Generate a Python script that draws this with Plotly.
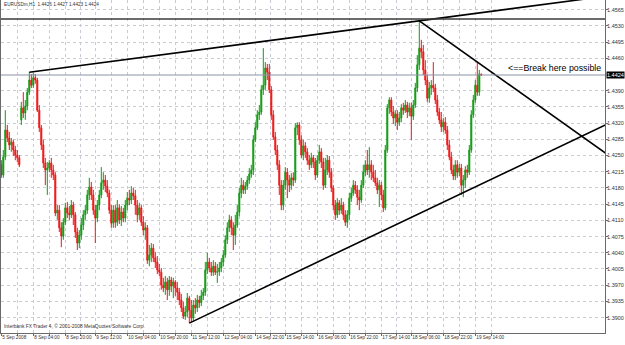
import plotly.graph_objects as go

# ---------------- data (EURUSDm H1) ----------------
bar_index = list(range(241))

opens = [
    1.4230,1.4208,1.4247,1.4305,1.4288,1.4273,1.4279,1.4262,1.4251,1.4245,
    1.4327,1.4353,1.4342,1.4357,1.4387,1.4413,1.4402,1.4418,1.4413,1.4348,
    1.4310,1.4273,1.4234,1.4219,1.4223,1.4234,1.4219,1.4208,1.4126,1.4132,
    1.4094,1.4076,1.4106,1.4137,1.4126,1.4122,1.4143,1.4122,1.4085,1.4061,
    1.4078,1.4100,1.4122,1.4132,1.4165,1.4182,1.4165,1.4132,1.4115,1.4143,
    1.4165,1.4191,1.4197,1.4184,1.4169,1.4132,1.4104,1.4132,1.4106,1.4137,
    1.4111,1.4128,1.4115,1.4143,1.4158,1.4154,1.4169,1.4163,1.4143,1.4122,
    1.4137,1.4106,1.4089,1.4094,1.4024,1.4035,1.4050,1.4029,1.4020,1.4003,
    1.3998,1.3970,1.3964,1.3977,1.3960,1.3981,1.3968,1.3977,1.3964,1.3955,
    1.3938,1.3921,1.3903,1.3912,1.3942,1.3916,1.3899,1.3927,1.3921,1.3938,
    1.3932,1.3947,1.3955,1.4003,1.4020,1.4007,1.3998,1.4011,1.3998,1.3999,
    1.4007,1.4020,1.4035,1.4068,1.4094,1.4111,1.4094,1.4078,1.4100,1.4128,
    1.4169,1.4186,1.4176,1.4184,1.4197,1.4210,1.4219,1.4284,1.4310,1.4338,
    1.4344,1.4392,1.4402,1.4439,1.4430,1.4392,1.4338,1.4290,1.4262,1.4230,
    1.4186,1.4143,1.4186,1.4214,1.4197,1.4186,1.4202,1.4197,1.4310,1.4316,
    1.4284,1.4251,1.4271,1.4258,1.4240,1.4230,1.4245,1.4236,1.4208,1.4240,
    1.4258,1.4236,1.4186,1.4219,1.4240,1.4214,1.4180,1.4143,1.4122,1.4148,
    1.4132,1.4143,1.4122,1.4106,1.4122,1.4158,1.4169,1.4186,1.4176,1.4160,
    1.4154,1.4186,1.4214,1.4230,1.4219,1.4230,1.4214,1.4202,1.4191,1.4176,
    1.4186,1.4165,1.4137,1.4262,1.4353,1.4370,1.4344,1.4331,1.4340,1.4322,
    1.4331,1.4353,1.4348,1.4359,1.4344,1.4353,1.4335,1.4359,1.4396,1.4446,
    1.4482,1.4474,1.4435,1.4413,1.4374,1.4396,1.4402,1.4396,1.4370,1.4344,
    1.4327,1.4312,1.4322,1.4305,1.4273,1.4247,1.4219,1.4206,1.4230,1.4214,
    1.4223,1.4186,1.4197,1.4219,1.4214,1.4262,1.4338,1.4370,1.4402,1.4387,
    1.4426,
]

highs = [
    1.4240,1.4262,1.4348,1.4316,1.4301,1.4288,1.4284,1.4271,1.4262,1.4251,
    1.4366,1.4387,1.4370,1.4396,1.4430,1.4426,1.4428,1.4426,1.4418,1.4359,
    1.4316,1.4284,1.4245,1.4236,1.4240,1.4245,1.4230,1.4214,1.4143,1.4143,
    1.4106,1.4115,1.4148,1.4150,1.4141,1.4154,1.4150,1.4128,1.4094,1.4089,
    1.4115,1.4132,1.4143,1.4176,1.4202,1.4193,1.4176,1.4143,1.4154,1.4176,
    1.4225,1.4214,1.4208,1.4197,1.4176,1.4143,1.4143,1.4143,1.4154,1.4145,
    1.4141,1.4137,1.4154,1.4171,1.4176,1.4184,1.4180,1.4176,1.4154,1.4148,
    1.4143,1.4119,1.4106,1.4100,1.4057,1.4061,1.4059,1.4042,1.4033,1.4016,
    1.4007,1.3986,1.3990,1.3986,1.3990,1.3988,1.3986,1.3981,1.3977,1.3964,
    1.3951,1.3934,1.3925,1.3953,1.3947,1.3938,1.3938,1.3942,1.3949,1.3947,
    1.3960,1.3964,1.4020,1.4040,1.4029,1.4020,1.4024,1.4020,1.4016,1.4020,
    1.4029,1.4046,1.4078,1.4106,1.4122,1.4119,1.4106,1.4122,1.4143,1.4180,
    1.4202,1.4197,1.4193,1.4206,1.4223,1.4230,1.4294,1.4322,1.4348,1.4359,
    1.4402,1.4482,1.4452,1.4448,1.4448,1.4400,1.4348,1.4301,1.4273,1.4240,
    1.4197,1.4197,1.4225,1.4223,1.4208,1.4212,1.4214,1.4320,1.4322,1.4322,
    1.4294,1.4284,1.4279,1.4266,1.4251,1.4256,1.4251,1.4245,1.4251,1.4273,
    1.4266,1.4245,1.4245,1.4251,1.4249,1.4223,1.4186,1.4154,1.4158,1.4154,
    1.4158,1.4150,1.4132,1.4132,1.4169,1.4180,1.4197,1.4195,1.4186,1.4176,
    1.4197,1.4230,1.4240,1.4262,1.4268,1.4240,1.4230,1.4219,1.4202,1.4197,
    1.4193,1.4176,1.4273,1.4361,1.4376,1.4376,1.4357,1.4348,1.4348,1.4344,
    1.4361,1.4364,1.4370,1.4366,1.4364,1.4364,1.4370,1.4407,1.4467,1.4541,
    1.4500,1.4489,1.4456,1.4424,1.4409,1.4413,1.4452,1.4405,1.4381,1.4353,
    1.4344,1.4331,1.4333,1.4314,1.4284,1.4258,1.4230,1.4240,1.4240,1.4232,
    1.4232,1.4208,1.4227,1.4230,1.4273,1.4348,1.4381,1.4413,1.4452,1.4435,
    1.4427,
]

lows = [
    1.4202,1.4202,1.4240,1.4279,1.4262,1.4258,1.4249,1.4240,1.4236,1.4225,
    1.4316,1.4331,1.4327,1.4348,1.4381,1.4396,1.4396,1.4405,1.4344,1.4301,
    1.4262,1.4223,1.4186,1.4165,1.4214,1.4202,1.4197,1.4119,1.4111,1.4085,
    1.4052,1.4068,1.4100,1.4115,1.4111,1.4115,1.4100,1.4072,1.4046,1.4050,
    1.4068,1.4089,1.4111,1.4124,1.4154,1.4154,1.4122,1.4061,1.4106,1.4132,
    1.4158,1.4176,1.4171,1.4160,1.4124,1.4094,1.4094,1.4094,1.4098,1.4102,
    1.4098,1.4106,1.4106,1.4132,1.4143,1.4145,1.4154,1.4122,1.4106,1.4111,
    1.4098,1.4078,1.4068,1.4016,1.4011,1.4020,1.4020,1.4007,1.3994,1.3990,
    1.3960,1.3955,1.3949,1.3938,1.3947,1.3955,1.3942,1.3947,1.3938,1.3927,
    1.3912,1.3897,1.3895,1.3901,1.3888,1.3890,1.3893,1.3908,1.3912,1.3921,
    1.3925,1.3938,1.3947,1.3994,1.3998,1.3990,1.3990,1.3992,1.3975,1.3990,
    1.3998,1.4011,1.4029,1.4059,1.4085,1.4078,1.4046,1.4057,1.4094,1.4119,
    1.4158,1.4167,1.4167,1.4176,1.4189,1.4202,1.4208,1.4279,1.4305,1.4327,
    1.4338,1.4381,1.4392,1.4413,1.4385,1.4327,1.4284,1.4251,1.4219,1.4165,
    1.4132,1.4132,1.4176,1.4158,1.4171,1.4176,1.4184,1.4191,1.4294,1.4273,
    1.4245,1.4240,1.4245,1.4230,1.4219,1.4223,1.4223,1.4197,1.4202,1.4232,
    1.4223,1.4176,1.4180,1.4208,1.4202,1.4171,1.4132,1.4111,1.4115,1.4122,
    1.4124,1.4111,1.4098,1.4094,1.4111,1.4150,1.4163,1.4167,1.4143,1.4132,
    1.4148,1.4180,1.4206,1.4208,1.4202,1.4197,1.4193,1.4184,1.4167,1.4139,
    1.4154,1.4128,1.4132,1.4256,1.4340,1.4335,1.4318,1.4314,1.4305,1.4314,
    1.4322,1.4338,1.4342,1.4331,1.4335,1.4284,1.4327,1.4353,1.4387,1.4435,
    1.4461,1.4424,1.4402,1.4366,1.4364,1.4381,1.4387,1.4361,1.4335,1.4318,
    1.4301,1.4301,1.4297,1.4262,1.4240,1.4210,1.4197,1.4197,1.4202,1.4206,
    1.4165,1.4160,1.4180,1.4202,1.4208,1.4256,1.4331,1.4364,1.4379,1.4379,
    1.4423,
]

closes = [
    1.4208,1.4247,1.4305,1.4288,1.4273,1.4279,1.4262,1.4251,1.4245,1.4230,
    1.4353,1.4342,1.4357,1.4387,1.4413,1.4402,1.4418,1.4413,1.4348,1.4310,
    1.4273,1.4234,1.4219,1.4223,1.4234,1.4219,1.4208,1.4126,1.4132,1.4094,
    1.4076,1.4106,1.4137,1.4126,1.4122,1.4143,1.4122,1.4085,1.4061,1.4078,
    1.4100,1.4122,1.4132,1.4165,1.4182,1.4165,1.4132,1.4115,1.4143,1.4165,
    1.4191,1.4197,1.4184,1.4169,1.4132,1.4104,1.4132,1.4106,1.4137,1.4111,
    1.4128,1.4115,1.4143,1.4158,1.4154,1.4169,1.4163,1.4143,1.4122,1.4137,
    1.4106,1.4089,1.4094,1.4024,1.4035,1.4050,1.4029,1.4020,1.4003,1.3998,
    1.3970,1.3964,1.3977,1.3960,1.3981,1.3968,1.3977,1.3964,1.3955,1.3938,
    1.3921,1.3903,1.3912,1.3942,1.3916,1.3899,1.3927,1.3921,1.3938,1.3932,
    1.3947,1.3955,1.4003,1.4020,1.4007,1.3998,1.4011,1.3998,1.3999,1.4007,
    1.4020,1.4035,1.4068,1.4094,1.4111,1.4094,1.4078,1.4100,1.4128,1.4169,
    1.4186,1.4176,1.4184,1.4197,1.4210,1.4219,1.4284,1.4310,1.4338,1.4344,
    1.4392,1.4402,1.4439,1.4430,1.4392,1.4338,1.4290,1.4262,1.4230,1.4186,
    1.4143,1.4186,1.4214,1.4197,1.4186,1.4202,1.4197,1.4310,1.4316,1.4284,
    1.4251,1.4271,1.4258,1.4240,1.4230,1.4245,1.4236,1.4208,1.4240,1.4258,
    1.4236,1.4186,1.4219,1.4240,1.4214,1.4180,1.4143,1.4122,1.4148,1.4132,
    1.4143,1.4122,1.4106,1.4122,1.4158,1.4169,1.4186,1.4176,1.4160,1.4154,
    1.4186,1.4214,1.4230,1.4219,1.4230,1.4214,1.4202,1.4191,1.4176,1.4186,
    1.4165,1.4137,1.4262,1.4353,1.4370,1.4344,1.4331,1.4340,1.4322,1.4331,
    1.4353,1.4348,1.4359,1.4344,1.4353,1.4335,1.4359,1.4396,1.4446,1.4482,
    1.4474,1.4435,1.4413,1.4374,1.4396,1.4402,1.4396,1.4370,1.4344,1.4327,
    1.4312,1.4322,1.4305,1.4273,1.4247,1.4219,1.4206,1.4230,1.4214,1.4223,
    1.4186,1.4197,1.4219,1.4214,1.4262,1.4338,1.4370,1.4402,1.4387,1.4426,
    1.4424,
]

x_label_bars = [0, 16, 32, 47, 63, 79, 95, 111, 127, 142, 158, 174, 190, 205, 221, 237]
x_labels = ["5 Sep 2008", "8 Sep 04:00", "8 Sep 20:00", "9 Sep 12:00", "10 Sep 04:00",
            "10 Sep 20:00", "11 Sep 12:00", "12 Sep 04:00", "14 Sep 22:00", "15 Sep 14:00",
            "16 Sep 06:00", "16 Sep 22:00", "17 Sep 14:00", "18 Sep 06:00", "18 Sep 22:00",
            "19 Sep 14:00"]

y_tick_prices = [1.4565, 1.4530, 1.4495, 1.4460, 1.4390, 1.4355, 1.4320, 1.4285, 1.4250,
                 1.4215, 1.4180, 1.4145, 1.4110, 1.4075, 1.4040, 1.4005, 1.3970, 1.3935,
                 1.3900, 1.3865]

bid_price = 1.4424
hline_price = 1.4545
# trend lines drawn as rays: (bar, price) anchor points
trend_resistance = [(14, 1.4430), (209, 1.4541)]
trend_falling = [(209, 1.4541), (238, 1.4452)]
trend_support = [(94, 1.3888), (230, 1.4168)]

symbol_title = "EURUSDm,H1"
note_text = "<==Break here possible"
copyright_text = "Interbank FX Trader 4, \u00a9 2001-2008 MetaQuotes Software Corp."

# ---------------- figure ----------------
X_RANGE = [-0.15, 301.85]
Y_RANGE = [1.386672, 1.4586]
GRID = "#c8cad6"
AXIS = "#6a6a6a"
FONT = "Liberation Sans, Arial, sans-serif"
TXT = "#333333"

fig = go.Figure()

fig.add_trace(go.Candlestick(
    x=bar_index, open=opens, high=highs, low=lows, close=closes,
    increasing=dict(line=dict(color="#129a12", width=1), fillcolor="#129a12"),
    decreasing=dict(line=dict(color="#f01414", width=1), fillcolor="#f01414"),
    whiskerwidth=0, hoverinfo="skip", showlegend=False,
))


def ray(points, x_end):
    (x1, y1), (x2, y2) = points
    slope = (y2 - y1) / (x2 - x1)
    return [x1, x_end], [y1, y1 + slope * (x_end - x1)]


for pts in (trend_resistance, trend_falling, trend_support):
    xs, ys = ray(pts, X_RANGE[1] + 20)
    fig.add_trace(go.Scatter(x=xs, y=ys, mode="lines",
                             line=dict(color="#000000", width=1.6),
                             hoverinfo="skip", showlegend=False))

fig.add_shape(type="line", xref="paper", x0=0, x1=1, yref="y", y0=hline_price, y1=hline_price,
              line=dict(color="#3a3a3a", width=1.6))
fig.add_shape(type="line", xref="paper", x0=0, x1=1, yref="y", y0=bid_price, y1=bid_price,
              line=dict(color="#8a92a8", width=1))

# x ticks: labelled ticks plus unlabeled mid-grid ticks
tickvals, ticktext = [], []
for k, b in enumerate(x_label_bars):
    tickvals.append(b)
    ticktext.append(x_labels[k])
    nxt = x_label_bars[k + 1] if k + 1 < len(x_label_bars) else b + 16
    tickvals.append((b + nxt) / 2)
    ticktext.append("")

fig.update_xaxes(
    range=X_RANGE, tickmode="array", tickvals=tickvals, ticktext=ticktext,
    tickangle=0,
    showgrid=True, gridcolor=GRID, griddash="dot", gridwidth=1,
    ticks="outside", ticklen=2, tickcolor=AXIS,
    tickfont=dict(family=FONT, size=4.7, color=TXT),
    ticklabelposition="outside right", ticklabelstandoff=-1,
    showline=True, linecolor=AXIS, linewidth=1, zeroline=False,
    rangeslider=dict(visible=False), fixedrange=True,
)
fig.update_yaxes(
    range=Y_RANGE, side="right", tickmode="array", tickvals=y_tick_prices,
    ticktext=[f"{p:.4f}" for p in y_tick_prices],
    showgrid=True, gridcolor=GRID, griddash="dot", gridwidth=1,
    ticks="outside", ticklen=2, tickcolor=AXIS,
    tickfont=dict(family=FONT, size=5.5, color=TXT),
    ticklabelstandoff=-2,
    showline=True, mirror=True, linecolor=AXIS, linewidth=1, zeroline=False,
    fixedrange=True,
)

header = f"{symbol_title}  {opens[-1]:.4f} {highs[-1]:.4f} {lows[-1]:.4f} {closes[-1]:.4f}"
fig.add_annotation(xref="paper", yref="paper", x=0, y=1, xanchor="left", yanchor="top",
                   xshift=1, yshift=0, text=header, showarrow=False,
                   font=dict(family=FONT, size=4.7, color=TXT))
fig.add_annotation(xref="paper", yref="paper", x=0, y=0, xanchor="left", yanchor="bottom",
                   xshift=1, yshift=2, text=copyright_text, showarrow=False,
                   font=dict(family=FONT, size=4.9, color=TXT))
fig.add_annotation(xref="paper", yref="y", x=1, y=bid_price, xanchor="right",
                   yanchor="bottom", xshift=-2, yshift=0, text=note_text, showarrow=False,
                   font=dict(family=FONT, size=8.8, color="#000000"))
fig.add_annotation(xref="paper", yref="y", x=1, y=bid_price, xanchor="left", yanchor="middle",
                   xshift=1, text=f"{bid_price:.4f}", showarrow=False, bgcolor="#000000",
                   borderpad=0, font=dict(family=FONT, size=5.5, color="#ffffff"))

fig.update_layout(
    width=625, height=345,
    margin=dict(l=1, r=20, t=0, b=12, pad=0),
    paper_bgcolor="#ffffff", plot_bgcolor="#ffffff",
    template="none", showlegend=False,
    font=dict(family=FONT, size=6, color=TXT),
)

fig.write_html("out.html")
